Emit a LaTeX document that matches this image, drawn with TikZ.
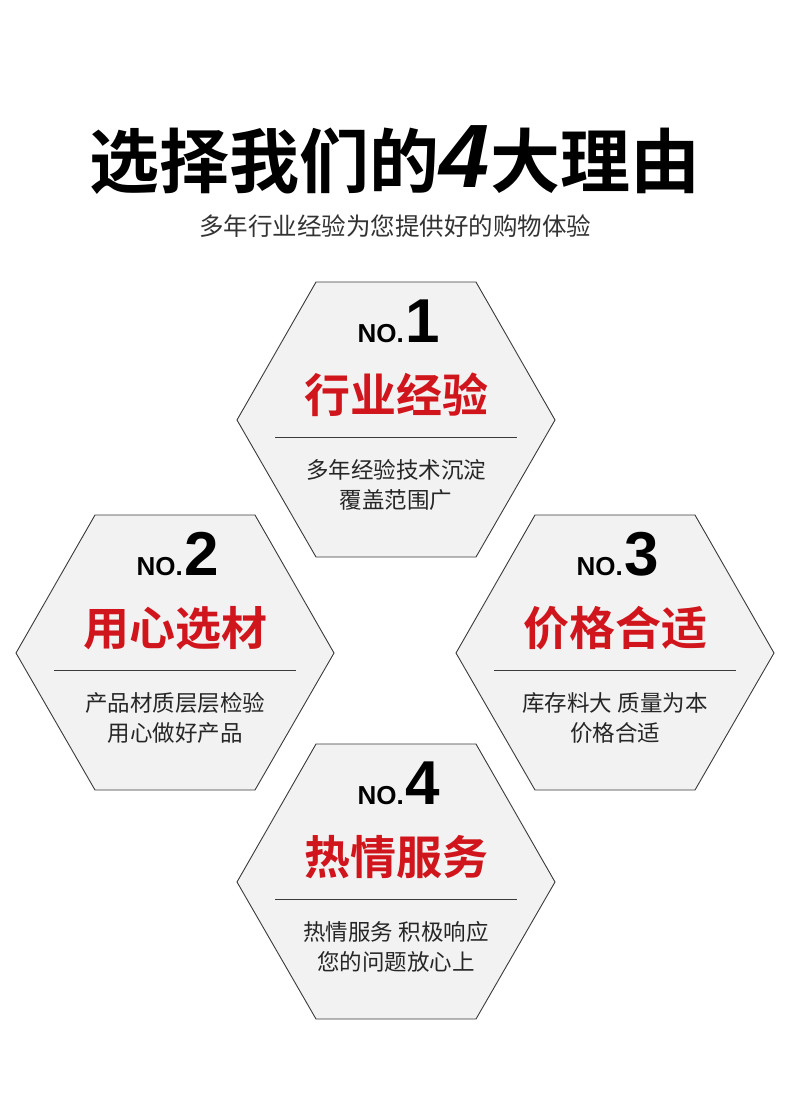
\documentclass[tikz,border=0pt]{standalone}
\usepackage{fontspec}
\newfontfamily\cjk{Noto Sans CJK SC}
\newfontfamily\cjkb{Noto Sans CJK SC Bold}
\newfontfamily\lat[BoldFont={Liberation Sans Bold}]{Liberation Sans}
\definecolor{myred}{HTML}{D0161C}
\definecolor{hexfill}{HTML}{F2F2F2}
\definecolor{hexline}{HTML}{3A3A3A}
\begin{document}
\begin{tikzpicture}[x=1pt,y=-1pt,
  hexbox/.style={draw=hexline,fill=hexfill,line width=0.9pt},
  divline/.style={draw=hexline,line width=0.7pt},
  notxt/.style={font=\lat\bfseries\fontsize{26}{26}\selectfont,inner sep=0pt},
  numtxt/.style={font=\lat\bfseries\fontsize{62}{62}\selectfont,inner sep=0pt},
  headtxt/.style={text=myred,font=\cjkb\fontsize{46}{46}\selectfont},
  bodytxt/.style={font=\cjk\fontsize{22.5}{30}\selectfont,align=center,text=black!85}]
\useasboundingbox[fill=white] (0,0) rectangle (790,1112);
\node[font=\cjkb\fontsize{70}{70}\selectfont] (title) at (395,160) {选择我们的{\lat\bfseries\itshape\fontsize{90}{90}\selectfont 4}大理由};
\node[font=\cjk\fontsize{24.5}{24.5}\selectfont,text=black!80] (sub) at (395,226) {多年行业经验为您提供好的购物体验};
\foreach \cx/\cy/\n/\head/\bodyA/\bodyB in {
  396/420/1/行业经验/多年经验技术沉淀/覆盖范围广,
  175/653/2/用心选材/产品材质层层检验/用心做好产品,
  615/653/3/价格合适/库存料大 质量为本/价格合适,
  396/882/4/热情服务/热情服务 积极响应/您的问题放心上}{
  \draw[hexbox] (\cx-159,\cy) -- (\cx-80,\cy-138) -- (\cx+80,\cy-138) -- (\cx+159,\cy) -- (\cx+80,\cy+137) -- (\cx-80,\cy+137) -- cycle;
  \draw[divline] (\cx-121,\cy+17) -- (\cx+121,\cy+17);
  \node[notxt,anchor=base east] (no\n) at (\cx+8,\cy-78) {NO.};
  \node[numtxt,anchor=base west] (num\n) at (\cx+9,\cy-78) {\n};
  \node[headtxt] (head\n) at (\cx,\cy-25) {\head};
  \node[bodytxt] (body\n) at (\cx,\cy+65) {\bodyA\\\bodyB};
}
\end{tikzpicture}
\end{document}
